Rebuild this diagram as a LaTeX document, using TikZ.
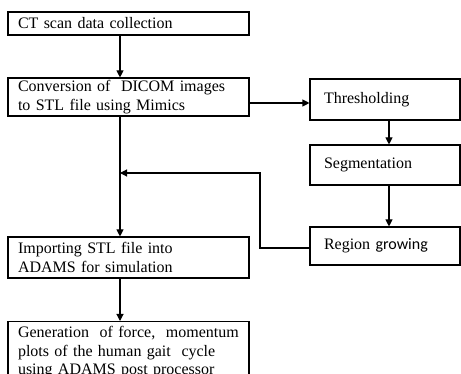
\documentclass[tikz,border=0pt]{standalone}
\usepackage{fontspec}
\setmainfont{Liberation Serif}
\newfontfamily\calibrilike{Carlito}
\usetikzlibrary{arrows.meta}
\begin{document}
\begin{tikzpicture}[x=1pt,y=-1pt,
  every node/.style={font=\fontsize{16}{18.5}\selectfont},
  lbox/.style={draw,line width=1.1pt,align=left,text width=221pt,inner xsep=10pt,inner ysep=0pt,minimum width=241pt},
  rbox/.style={draw,line width=1.1pt,align=left,text width=122pt,inner xsep=14pt,inner ysep=0pt,minimum width=150pt},
  conn/.style={line width=1.1pt},
  arr/.style={conn,-{Triangle[length=7pt,width=7pt]}}]
\clip (0,0) rectangle (461,374);
\fill[white] (0,0) rectangle (461,374);
% left column
\node[lbox,minimum height=23pt] (b1) at (128.5,23.5) {CT scan data collection};
\node[lbox,minimum height=38pt] (b2) at (128.5,97) {Conversion of\ \ DICOM images\\to STL file using Mimics};
\node[lbox,minimum height=41pt] (b3) at (128.5,257.5) {Importing\ STL file into\\ADAMS for simulation};
\node[lbox,minimum height=62pt,anchor=north] (b4) at (128.5,321) {Generation\ \ of force,\ \ momentum\\plots of the human gait\ \ cycle\\using ADAMS post processor};
% right column
\node[rbox,minimum height=41pt] (t) at (385,99.5) {Thresholding};
\node[rbox,minimum height=40pt] (s) at (385,165) {Segmentation};
\node[rbox,minimum height=38pt] (r) at (385,246) {Region {\calibrilike growing}};
% helper coordinates
\coordinate (cx) at (120,0);
\coordinate (sx) at (389,0);
\coordinate (ya) at (0,103);
\coordinate (yr) at (0,248);
\coordinate (rb) at (260,248);
\coordinate (rt) at (260,173);
\coordinate (join) at (120,173);
% connectors
\draw[arr] (b1.south -| cx) -- (b2.north -| cx);
\draw[arr] (b2.east |- ya) -- (t.west |- ya);
\draw[arr] (t.south -| sx) -- (s.north -| sx);
\draw[arr] (s.south -| sx) -- (r.north -| sx);
\draw[arr] (b2.south -| cx) -- (b3.north -| cx);
\draw[arr] (b3.south -| cx) -- (b4.north -| cx);
\draw[arr] (r.west |- yr) -- (rb) -- (rt) -- (join);
\end{tikzpicture}
\end{document}
